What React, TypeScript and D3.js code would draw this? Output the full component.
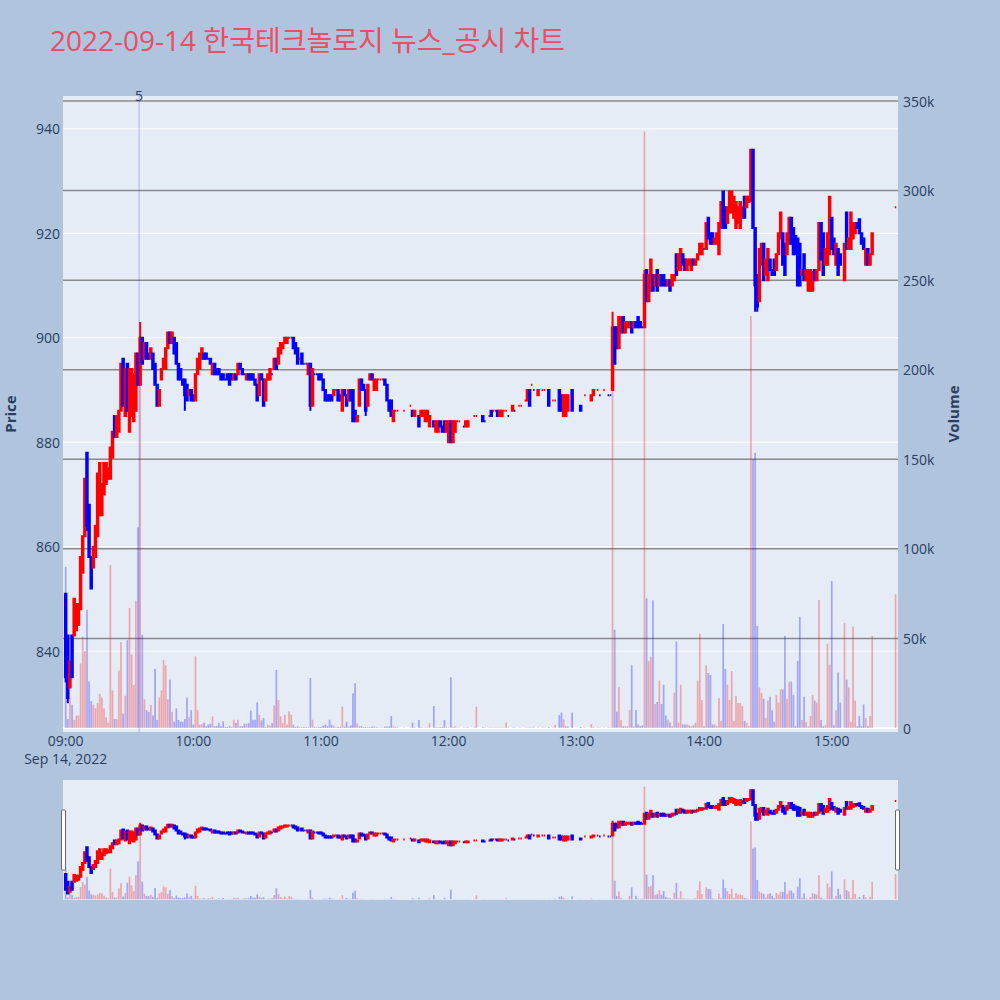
import React, { useMemo } from 'react';
import * as d3 from 'd3';

const TITLE = '2022-09-14 한국테크놀로지 뉴스_공시 차트';
const SESSION_START = new Date(2022, 8, 14, 9, 0, 0);

// [minute after 09:00, open, close, volume (thousand shares)]
const CANDLES_0900: number[][] = [
  [0, 851, 835, 90], [1, 843, 831, 5], [2, 833, 838, 17], [3, 843, 835, 13], [4, 843, 850, 4.5],
  [5, 844, 849, 7], [6, 845, 849, 7], [7, 848, 858, 36], [8, 855, 862, 51], [9, 862, 873, 43],
  [10, 878, 864, 66], [11, 868, 858, 26], [12, 858, 852, 15], [13, 856, 860, 13], [14, 858, 864, 11],
  [15, 862, 874, 14], [16, 866, 876, 19], [17, 866, 872, 17], [18, 870, 876, 11], [19, 872, 876, 6],
  [20, 873, 875, 3], [21, 873, 879, 91], [22, 877, 882, 21], [23, 885, 881, 5], [24, 881, 885, 5],
  [25, 882, 886, 32], [26, 886, 895, 48], [27, 896, 887, 8], [28, 885, 894, 18], [29, 895, 886, 49],
  [30, 882, 894, 67], [31, 885, 894, 41], [32, 884, 893, 24], [33, 886, 897, 71], [34, 897, 891, 112],
  [35, 891, 900, 195], [36, 900, 895, 52], [37, 896, 899, 16], [38, 899, 896, 10], [39, 897, 896, 9],
  [40, 896, 898, 13], [41, 897, 894, 7], [42, 895, 891, 33], [43, 891, 887, 4.5], [44, 887, 890, 17],
  [45, 892, 894, 21], [46, 894, 896, 38], [47, 894, 898, 35], [48, 898, 901, 16], [49, 901, 899, 27],
  [50, 899, 901, 9], [51, 900, 897, 3.5], [52, 899, 895, 11], [53, 895, 892, 4.5], [54, 894, 892, 3.5],
  [55, 892, 891, 3.5], [56, 892, 889, 5], [57, 891, 888, 17], [58, 889, 890, 6], [59, 890, 888, 10],
];
const CANDLES_1000: number[][] = [
  [60, 889, 888, 2], [61, 888, 893, 40], [62, 893, 896, 10], [63, 894, 897, 2], [64, 896, 898, 2],
  [65, 897, 896, 3], [66, 897, 896, 1], [67, 896, 896, 2], [68, 896, 895, 2.4], [69, 893, 895, 6.5],
  [70, 895, 893, 1], [71, 894, 893, 1], [72, 894, 893, 2.8], [73, 893, 892, 1], [74, 893, 892, 3.7],
  [75, 892, 892, 0.6], [76, 893, 892, 0.6], [77, 893, 891, 1], [78, 893, 892, 0.6], [79, 892, 893, 4.6],
  [80, 893, 892, 2.8], [81, 893, 895, 4.6], [82, 895, 894, 0.9], [83, 894, 893, 1], [84, 893, 893, 2.4],
  [85, 892, 893, 2.4], [86, 893, 892, 2.8], [87, 893, 892, 9.7], [88, 893, 892, 4.6], [89, 892, 891, 4.6],
  [90, 891, 888, 14.3], [91, 889, 893, 7.4], [92, 893, 892, 4.3], [93, 892, 887, 5.6], [94, 888, 892, 0.6],
  [95, 892, 893, 1.9], [96, 892, 894, 1.3], [97, 893, 893, 2.8], [98, 894, 896, 12.5], [99, 896, 894, 32.4],
  [100, 895, 898, 15.6], [101, 897, 899, 6.5], [102, 898, 899, 2.8], [103, 899, 900, 7.4], [104, 899, 900, 1.9],
  [105, 900, 900, 9.3], [106, 900, 900, 7.4], [107, 900, 898, 1.9], [108, 899, 897, 0.6], [109, 898, 895, 0.9],
  [110, 896, 896, 0.6], [111, 897, 895, 0.4], [112, 895, 895, 0.6], [113, 895, 895, 0.5], [114, 893, 895, 0.5],
  [115, 895, 887, 27.9], [116, 887, 894, 4.6], [117, 893, 893, 0.6], [118, 893, 893, 0.3], [119, 893, 892, 0.5],
];
const CANDLES_1100: number[][] = [
  [120, 893, 892, 0.6], [121, 892, 890, 1.3], [122, 890, 888, 1.9], [123, 889, 888, 1], [124, 889, 888, 4.6],
  [125, 889, 888, 1.9], [126, 889, 890, 1.3], [127, 890, 890, 0.5], [128, 890, 888, 0.6], [129, 889, 888, 0.5],
  [130, 886, 890, 11.9], [131, 890, 889, 0.8], [132, 889, 887, 3.5], [133, 888, 890, 0.8], [134, 890, 888, 1.5],
  [135, 890, 884, 19.4], [136, 886, 884, 25], [137, 884, 885, 2.6], [138, 887, 892, 1], [139, 892, 890, 1],
  [140, 891, 890, 0.5], [141, 890, 886, 0.5], [142, 887, 891, 0.5], [143, 892, 893, 0.6], [144, 893, 892, 0.8],
  [145, 890, 892, 0.8], [146, 890, 892, 0.5], [147, 892, 892, 0.3], [148, 892, 892, 0.3], [149, 892, 892, 0.3],
  [150, 892, 891, 0.8], [151, 891, 888, 0.8], [152, 888, 886, 0.8], [153, 888, 885, 6.7], [154, 884, 886, 0.8],
  [155, 886, 886, 0.8], [156, 886, 886, 0.4], [159, 886, 886, 0.3], [162, 887, 887, 0.3], [163, 886, 885, 3],
  [164, 885, 886, 0.5], [166, 885, 883, 4.5], [167, 885, 886, 0.5], [168, 885, 886, 0.3], [169, 884, 886, 0.3],
  [170, 884, 886, 0.3], [171, 883, 885, 2.6], [173, 884, 883, 12.3], [174, 882, 884, 0.5], [175, 882, 884, 0.5],
  [176, 884, 883, 0.5], [177, 883, 882, 0.5], [178, 884, 882, 4.5], [179, 882, 884, 0.5],
];
const CANDLES_1200: number[][] = [
  [180, 880, 884, 0.3], [181, 884, 880, 28.3], [182, 880, 884, 0.5], [183, 882, 884, 1], [184, 884, 884, 0.3],
  [185, 884, 884, 0.3], [187, 883, 883, 0.3], [188, 883, 884, 0.3], [189, 883, 884, 0.5], [192, 885, 885, 0.3],
  [193, 885, 885, 11.9], [196, 885, 884, 0.5], [197, 884, 884, 0.3], [199, 885, 885, 0.3], [200, 886, 885, 0.3],
  [201, 886, 886, 0.3], [202, 886, 886, 0.3], [203, 886, 885, 0.3], [204, 885, 886, 0.3], [205, 885, 886, 0.3],
  [206, 886, 886, 0.3], [207, 886, 886, 3], [208, 885, 885, 0.3], [210, 886, 887, 0.3], [211, 886, 886, 0.3],
  [213, 887, 887, 0.3], [214, 887, 887, 0.3], [216, 888, 888, 0.3], [217, 888, 890, 0.3], [218, 890, 887, 0.3],
  [219, 891, 891, 0.3], [220, 890, 890, 0.3], [222, 889, 890, 0.3], [224, 890, 890, 0.3], [225, 890, 890, 0.3],
  [227, 890, 887, 0.5], [229, 888, 888, 0.3], [230, 888, 888, 1.7], [232, 890, 886, 7.3], [233, 889, 886, 8.6],
  [234, 885, 889, 4.8], [235, 885, 889, 1], [236, 886, 889, 1], [238, 890, 886, 8.6],
];
const CANDLES_1300: number[][] = [
  [242, 887, 886, 0.5], [244, 889, 889, 0.3], [247, 888, 889, 2.2], [248, 889, 890, 0.5], [250, 890, 890, 0.3],
  [251, 889, 889, 0.3], [253, 890, 890, 0.3], [255, 889, 889, 0.3], [256, 889, 889, 0.3], [257, 890, 902, 227],
  [258, 902, 895, 54.8], [259, 902, 898, 9.1], [260, 898, 904, 23], [261, 901, 904, 4.5], [262, 904, 901, 1],
  [263, 901, 903, 1], [264, 902, 903, 1], [265, 902, 903, 10], [266, 903, 901, 35], [267, 902, 903, 1],
  [268, 903, 902, 10], [269, 904, 902, 2], [270, 903, 902, 1], [271, 902, 902, 1.5], [272, 902, 912, 333],
  [273, 913, 907, 72.4], [274, 907, 912, 37.4], [275, 909, 915, 39.7], [276, 912, 909, 71.3], [277, 910, 912, 13.4],
  [278, 913, 909, 14.5], [279, 910, 912, 26.4], [280, 912, 910, 13.4], [281, 912, 910, 24.2], [282, 911, 910, 7],
  [283, 910, 911, 4.7], [284, 911, 909, 3], [285, 910, 912, 1], [286, 911, 912, 19.8], [287, 916, 912, 48.3],
  [288, 913, 916, 3], [289, 913, 917, 24.2], [290, 916, 914, 2], [291, 915, 913, 2], [292, 913, 915, 2],
  [293, 914, 915, 1.5], [294, 913, 915, 1], [295, 915, 914, 1.5], [296, 914, 915, 3], [297, 915, 916, 26.4],
  [298, 916, 918, 52.7], [299, 916, 918, 15.6],
];
const CANDLES_1400: number[][] = [
  [300, 917, 917, 1], [301, 917, 922, 35], [302, 923, 919, 30.7], [303, 920, 918, 29.6], [304, 920, 918, 2],
  [305, 918, 919, 2], [306, 918, 920, 1], [307, 916, 922, 16.7], [308, 921, 926, 4], [309, 928, 921, 58],
  [310, 925, 921, 33], [311, 922, 925, 24.2], [312, 924, 928, 15.6], [313, 924, 928, 31.8], [314, 923, 927, 4],
  [315, 921, 926, 17.8], [316, 922, 925, 14], [317, 921, 926, 14], [318, 923, 925, 12.3], [319, 927, 923, 4],
  [320, 925, 927, 3], [321, 926, 927, 1], [322, 927, 936, 230], [323, 936, 921, 150], [324, 921, 910, 153.6],
  [325, 912, 906, 57], [326, 907, 917, 22.6], [327, 914, 918, 19.5], [328, 918, 911, 16.3], [329, 912, 915, 5.6],
  [330, 911, 917, 15.3], [331, 915, 913, 17.4], [332, 913, 912, 9.9], [333, 915, 912, 3.5], [334, 913, 916, 18.5],
  [335, 916, 920, 14.2], [336, 919, 924, 21.6], [337, 920, 914, 21.6], [338, 918, 912, 51.4], [339, 916, 920, 16.3],
  [340, 918, 923, 25.9], [341, 923, 918, 25.9], [342, 921, 916, 18.5], [343, 919.5, 916, 1], [344, 919, 910, 37.5],
  [345, 918, 910, 62], [346, 912, 913, 4.5], [347, 916, 911, 17.4], [348, 911, 913, 3.5], [349, 909, 913, 1],
  [350, 909, 913, 6.7], [351, 909, 912.6, 18.5], [352, 913, 911, 15.3], [353, 911, 913, 14.2], [354, 913, 922, 71.5],
  [355, 922, 915, 4.5], [356, 920, 912, 1], [357, 914, 917, 1.5], [358, 914, 920, 47], [359, 916, 927, 35.4],
];
const CANDLES_1500: number[][] = [
  [360, 923, 917, 82], [361, 919, 916, 1.5], [362, 914, 918, 9.9], [363, 917, 912, 31], [364, 916, 914, 14.2],
  [366, 911, 918, 58.7], [367, 924, 917, 27], [368, 917, 919, 22.6], [369, 917, 924, 3.5], [370, 919, 922, 56.6],
  [371, 920, 922, 15.3], [372, 922, 921, 1], [373, 922.7, 920, 6.7], [374, 920, 918, 1], [375, 919, 917, 13.2],
  [376, 914, 917, 5.6], [377, 917, 914, 1], [378, 914, 916, 6.7], [379, 916, 920, 51.4], [390, 925, 925, 74.6],
];
// [minute, high, low] for candles whose wicks reach past the body
const WICKS: number[][] = [
  [0, 851, 834], [1, 843, 830], [10, 878, 863], [35, 903, 891], [56, 892, 886], [115, 895, 886],
  [141, 890, 885], [181, 884, 880], [257, 905, 890], [272, 913, 902], [309, 928, 921], [322, 936, 926],
  [324, 921, 905], [325, 912, 905],
];
const NEWS_MARKERS = [{ minute: 34.5, label: '5' }];
const PRICE_TICKS = [840, 860, 880, 900, 920, 940];
const VOLUME_TICKS = [0, 50000, 100000, 150000, 200000, 250000, 300000, 350000];
const VOLUME_TICK_LABELS = ['0', '50k', '100k', '150k', '200k', '250k', '300k', '350k'];
const HOUR_TICKS = [9, 10, 11, 12, 13, 14, 15];
const PRICE_RANGE = [824.5, 946.3];
const VOLUME_RANGE = [-2230, 352800];
const TIME_RANGE_MIN = [-1.26, 391.14];

const PLOT = { left: 63, right: 898, top: 96, bottom: 732 };
const SLIDER = { top: 780, bottom: 900 };
const UP = '#FF0000';
const DOWN = '#0000FF';
const FONT = "'Open Sans', 'Noto Sans CJK KR', sans-serif";
const TXT = '#2a3f5f';

const at = (m: number) => new Date(SESSION_START.getTime() + m * 60000);

export default function App() {
  const data = useMemo(() => {
    const raw = [
      ...CANDLES_0900, ...CANDLES_1000, ...CANDLES_1100, ...CANDLES_1200,
      ...CANDLES_1300, ...CANDLES_1400, ...CANDLES_1500,
    ];
    const wick = new Map(WICKS.map(([m, h, l]) => [m, { h, l }]));
    let prevC: number | null = null;
    let prevDir = -1;
    return raw.map(([m, o, c, vk]) => {
      const w = wick.get(m);
      const h = Math.max(o, c, w ? w.h : -Infinity);
      const l = Math.min(o, c, w ? w.l : Infinity);
      let dir: number;
      if (c > o) dir = 1;
      else if (c < o) dir = -1;
      else if (prevC !== null && c > prevC) dir = 1;
      else if (prevC !== null && c < prevC) dir = -1;
      else dir = prevDir;
      prevC = c;
      prevDir = dir;
      return { t: at(m), o, h, l, c, v: vk * 1000, dir };
    });
  }, []);

  const x = d3.scaleTime().domain([at(TIME_RANGE_MIN[0]), at(TIME_RANGE_MIN[1])]).range([PLOT.left, PLOT.right]);
  const yP = d3.scaleLinear().domain(PRICE_RANGE).range([PLOT.bottom, PLOT.top]);
  const yV = d3.scaleLinear().domain(VOLUME_RANGE).range([PLOT.bottom, PLOT.top]);
  const yP2 = d3.scaleLinear().domain(PRICE_RANGE).range([SLIDER.bottom, SLIDER.top]);
  const yV2 = d3.scaleLinear().domain(VOLUME_RANGE).range([SLIDER.bottom, SLIDER.top]);
  const step = x(at(1)) - x(at(0));
  const hw = step * 0.35;
  const barW = step * 0.8;

  const candlePath = (d: any, ys: d3.ScaleLinear<number, number>) => {
    const cx = x(d.t);
    const top = ys(Math.max(d.o, d.c));
    const bot = ys(Math.min(d.o, d.c));
    return `M${cx - hw},${top}H${cx + hw}V${bot}H${cx - hw}Z M${cx},${ys(d.h)}V${top} M${cx},${bot}V${ys(d.l)}`;
  };

  const renderCandles = (ys: d3.ScaleLinear<number, number>) =>
    data.map((d, i) => (
      <path key={i} d={candlePath(d, ys)} fill={d.dir > 0 ? UP : DOWN} stroke={d.dir > 0 ? UP : DOWN}
        strokeWidth={2} />
    ));
  const renderBars = (ys: d3.ScaleLinear<number, number>) =>
    data.map((d, i) => (
      <rect key={i} x={x(d.t) - barW / 2} width={barW} y={ys(d.v)} height={Math.max(0, ys(0) - ys(d.v))}
        fill={d.dir > 0 ? 'rgba(255,0,0,0.3)' : 'rgba(0,0,255,0.3)'} />
    ));

  return (
    <svg width={1000} height={1000} style={{ position: 'absolute', left: 0, top: 0, display: 'block' }}
      fontFamily={FONT}>
      <defs>
        <clipPath id="mainclip"><rect x={PLOT.left} y={PLOT.top} width={PLOT.right - PLOT.left} height={PLOT.bottom - PLOT.top} /></clipPath>
        <clipPath id="sliderclip"><rect x={PLOT.left} y={SLIDER.top} width={PLOT.right - PLOT.left} height={SLIDER.bottom - SLIDER.top} /></clipPath>
      </defs>
      <rect width={1000} height={1000} fill="#B0C4DE" />
      <text x={50} y={51} fontSize={28} fill="#E84E64">{TITLE}</text>

      {/* main plot */}
      <rect x={PLOT.left} y={PLOT.top} width={PLOT.right - PLOT.left} height={PLOT.bottom - PLOT.top} fill="#E5ECF6" />
      {PRICE_TICKS.map((p) => (
        <line key={p} x1={PLOT.left} x2={PLOT.right} y1={yP(p)} y2={yP(p)} stroke="#fff" strokeWidth={1} />
      ))}
      {VOLUME_TICKS.filter((v) => v > 0).map((v) => (
        <line key={v} x1={PLOT.left} x2={PLOT.right} y1={yV(v)} y2={yV(v)} stroke="#8a8a8a" strokeWidth={1.5} />
      ))}
      <line x1={PLOT.left} x2={PLOT.right} y1={yV(0)} y2={yV(0)} stroke="#fff" strokeWidth={2} />
      <g clipPath="url(#mainclip)">
        {renderCandles(yP)}
        {renderBars(yV)}
        {NEWS_MARKERS.map((n) => (
          <line key={n.label} x1={x(at(n.minute))} x2={x(at(n.minute))} y1={PLOT.top} y2={PLOT.bottom}
            stroke="rgba(0,0,255,0.25)" strokeWidth={1} />
        ))}
      </g>
      {NEWS_MARKERS.map((n) => (
        <text key={n.label} x={x(at(n.minute))} y={101} fontSize={14} fill={TXT} textAnchor="middle">{n.label}</text>
      ))}

      {/* axes labels */}
      {PRICE_TICKS.map((p) => (
        <text key={p} x={60} y={yP(p)} fontSize={14} fill={TXT} textAnchor="end" dominantBaseline="central">{p}</text>
      ))}
      {VOLUME_TICKS.map((v, i) => (
        <text key={v} x={903} y={yV(v)} fontSize={14} fill={TXT} textAnchor="start" dominantBaseline="central">
          {VOLUME_TICK_LABELS[i]}
        </text>
      ))}
      {HOUR_TICKS.map((h) => {
        const t = new Date(2022, 8, 14, h, 0, 0);
        return (
          <text key={h} x={x(t)} y={746} fontSize={14} fill={TXT} textAnchor="middle">{d3.timeFormat('%H:%M')(t)}</text>
        );
      })}
      <text x={x(SESSION_START)} y={764} fontSize={14} fill={TXT} textAnchor="middle">
        {d3.timeFormat('%b %-d, %Y')(SESSION_START)}
      </text>
      <text transform={`translate(10,414) rotate(-90)`} fontSize={15} fontWeight="bold" fill={TXT}
        textAnchor="middle" dominantBaseline="central">Price</text>
      <text transform={`translate(953,414) rotate(-90)`} fontSize={15} fontWeight="bold" fill={TXT}
        textAnchor="middle" dominantBaseline="central">Volume</text>

      {/* range slider */}
      <rect x={PLOT.left} y={SLIDER.top} width={PLOT.right - PLOT.left} height={SLIDER.bottom - SLIDER.top} fill="#E5ECF6" />
      <g clipPath="url(#sliderclip)">
        {renderCandles(yP2)}
        {renderBars(yV2)}
      </g>
      <rect x={PLOT.left - 1.5} y={810} width={4} height={60} rx={1} fill="#fff" stroke="#666" strokeWidth={1} />
      <rect x={PLOT.right - 2.5} y={810} width={4} height={60} rx={1} fill="#fff" stroke="#666" strokeWidth={1} />
    </svg>
  );
}
